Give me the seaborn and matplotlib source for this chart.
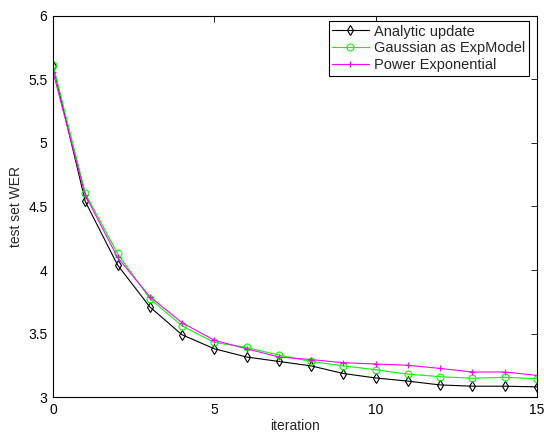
import seaborn as sns
import pandas as pd
import matplotlib
matplotlib.use('Agg')
import matplotlib.pyplot as plt

iterations = list(range(16))
analytic = [5.61, 4.54, 4.04, 3.71, 3.49, 3.38, 3.315, 3.28, 3.245, 3.185,
            3.15, 3.125, 3.095, 3.085, 3.085, 3.08]
gaussian = [5.615, 4.605, 4.13, 3.775, 3.56, 3.43, 3.39, 3.33, 3.28, 3.245,
            3.215, 3.18, 3.16, 3.148, 3.155, 3.145]
power_exp = [5.56, 4.59, 4.10, 3.79, 3.585, 3.447, 3.38, 3.315, 3.295, 3.27,
             3.26, 3.25, 3.225, 3.197, 3.197, 3.17]

series_names = ['Analytic update', 'Gaussian as ExpModel', 'Power Exponential']
series_colors = ['black', '#00ff00', '#ff00ff']
series_markers = ['d', 'o', '+']

df = pd.DataFrame({
    'iteration': iterations * 3,
    'wer': analytic + gaussian + power_exp,
    'method': [n for n in series_names for _ in iterations],
})

sns.set_style('white')
plt.rcParams['font.family'] = ['Liberation Sans', 'DejaVu Sans']
plt.rcParams['font.size'] = 10

fig = plt.figure(figsize=(5.44, 4.32), dpi=100)
ax = fig.add_axes([0.0974, 0.081, 0.8896, 0.882])

for name, color, marker in zip(series_names, series_colors, series_markers):
    sub = df[df['method'] == name]
    sns.lineplot(data=sub, x='iteration', y='wer', ax=ax, color=color,
                 marker=marker, markersize=5, mfc='none', mec=color, mew=0.8,
                 linewidth=0.8, label=name)

ax.set_xlim(0, 15)
ax.set_ylim(3, 6)
ax.set_xticks([0, 5, 10, 15])
ax.set_yticks([3, 3.5, 4, 4.5, 5, 5.5, 6])
ax.set_yticklabels(['3', '3.5', '4', '4.5', '5', '5.5', '6'])
ax.tick_params(direction='in', length=4, width=0.6, top=True, right=True,
               labelsize=10, colors='black', pad=4)
for sp in ax.spines.values():
    sp.set_color('black')
    sp.set_linewidth(0.8)
ax.set_xlabel('iteration', fontsize=10, labelpad=2)
ax.set_ylabel('test set WER', fontsize=10, labelpad=4)

leg = ax.legend(loc='upper right', bbox_to_anchor=(0.983, 0.987),
                fontsize=10.5, frameon=True, fancybox=False, framealpha=1,
                edgecolor='black', handlelength=2.5, borderaxespad=0,
                labelspacing=0.2, handletextpad=0.35, borderpad=0.25)
leg.get_frame().set_linewidth(0.8)

plt.savefig('out.png', dpi=100)
